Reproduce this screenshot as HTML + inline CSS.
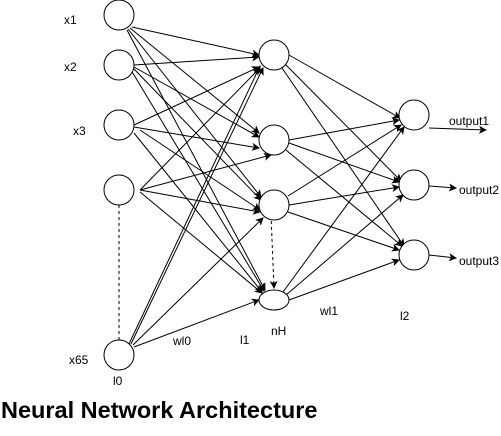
<!DOCTYPE html>
<html><head><style>body{margin:0;background:#fff}</style></head><body>
<svg width="501" height="431" xmlns="http://www.w3.org/2000/svg" font-family="Liberation Sans, sans-serif">
<defs><marker id="a" markerWidth="8" markerHeight="8" refX="7" refY="4" orient="auto" markerUnits="userSpaceOnUse"><path d="M0,0 L8,4 L0,8 L2,4z" fill="#000"/></marker></defs>
<g stroke="#000" stroke-width="1" fill="none" marker-end="url(#a)">
<line x1="132" y1="27" x2="259" y2="55"/><line x1="130" y1="28" x2="259" y2="133"/><line x1="128" y1="29" x2="261" y2="197"/><line x1="127" y1="30" x2="265" y2="290"/>
<line x1="134" y1="65" x2="259" y2="57"/><line x1="134" y1="67" x2="259" y2="137"/><line x1="133" y1="68" x2="261" y2="200"/><line x1="131" y1="70" x2="264" y2="291"/>
<line x1="134" y1="125" x2="259" y2="67"/><line x1="134" y1="127" x2="259" y2="148"/><line x1="140" y1="130" x2="260" y2="210"/><line x1="134" y1="133" x2="262" y2="292"/>
<line x1="140" y1="190" x2="260" y2="68"/><line x1="140" y1="190" x2="271" y2="155"/><line x1="140" y1="190" x2="260" y2="212"/><line x1="140" y1="192" x2="262" y2="293"/>
<line x1="129" y1="344" x2="260" y2="66"/><line x1="131" y1="344" x2="263" y2="68"/><line x1="133" y1="345" x2="263" y2="218"/><line x1="134" y1="347" x2="259" y2="300"/>
<line x1="289" y1="55" x2="400" y2="118"/><line x1="285" y1="64" x2="401" y2="181"/><line x1="282" y1="68" x2="404" y2="246"/>
<line x1="289" y1="140" x2="399" y2="120"/><line x1="289" y1="143" x2="399" y2="182"/><line x1="286" y1="150" x2="402" y2="246"/>
<line x1="288" y1="196" x2="401" y2="125"/><line x1="289" y1="205" x2="399" y2="187"/><line x1="288" y1="212" x2="399" y2="250"/>
<line x1="283" y1="292" x2="404" y2="127"/><line x1="286" y1="295" x2="403" y2="195"/><line x1="289" y1="300" x2="399" y2="260"/>
<line x1="429" y1="128" x2="486" y2="130"/><line x1="429" y1="186" x2="456" y2="188"/><line x1="429" y1="255" x2="456" y2="258"/>
<line x1="271" y1="215" x2="274" y2="288" stroke-dasharray="3,3"/>
</g>
<line x1="119" y1="205" x2="119" y2="340" stroke="#000" stroke-dasharray="3,3"/>
<g stroke="#000" fill="#fff">
<circle cx="119" cy="15" r="15"/><circle cx="119" cy="65" r="15"/><circle cx="119" cy="125" r="15"/><circle cx="119" cy="190" r="15"/><circle cx="119" cy="355" r="15"/>
<circle cx="274" cy="55" r="15"/><circle cx="274" cy="140" r="15"/><circle cx="274" cy="205" r="15"/><ellipse cx="274" cy="300" rx="15" ry="10"/>
<circle cx="414" cy="115" r="15"/><circle cx="414" cy="185" r="15"/><circle cx="414" cy="255" r="15"/>
</g>
<g font-size="12" fill="#000">
<text x="64" y="24">x1</text><text x="64" y="71">x2</text><text x="73" y="135">x3</text><text x="69" y="364">x65</text>
<text x="113" y="385">l0</text><text x="173" y="345">wl0</text><text x="240" y="344">l1</text><text x="271" y="335">nH</text>
<text x="320" y="315">wl1</text><text x="400" y="320">l2</text>
<text x="449" y="125">output1</text><text x="459" y="194">output2</text><text x="459" y="265">output3</text>
</g>
<text x="1" y="418" font-size="23.5" font-weight="bold">Neural Network Architecture</text>
</svg>
</body></html>
